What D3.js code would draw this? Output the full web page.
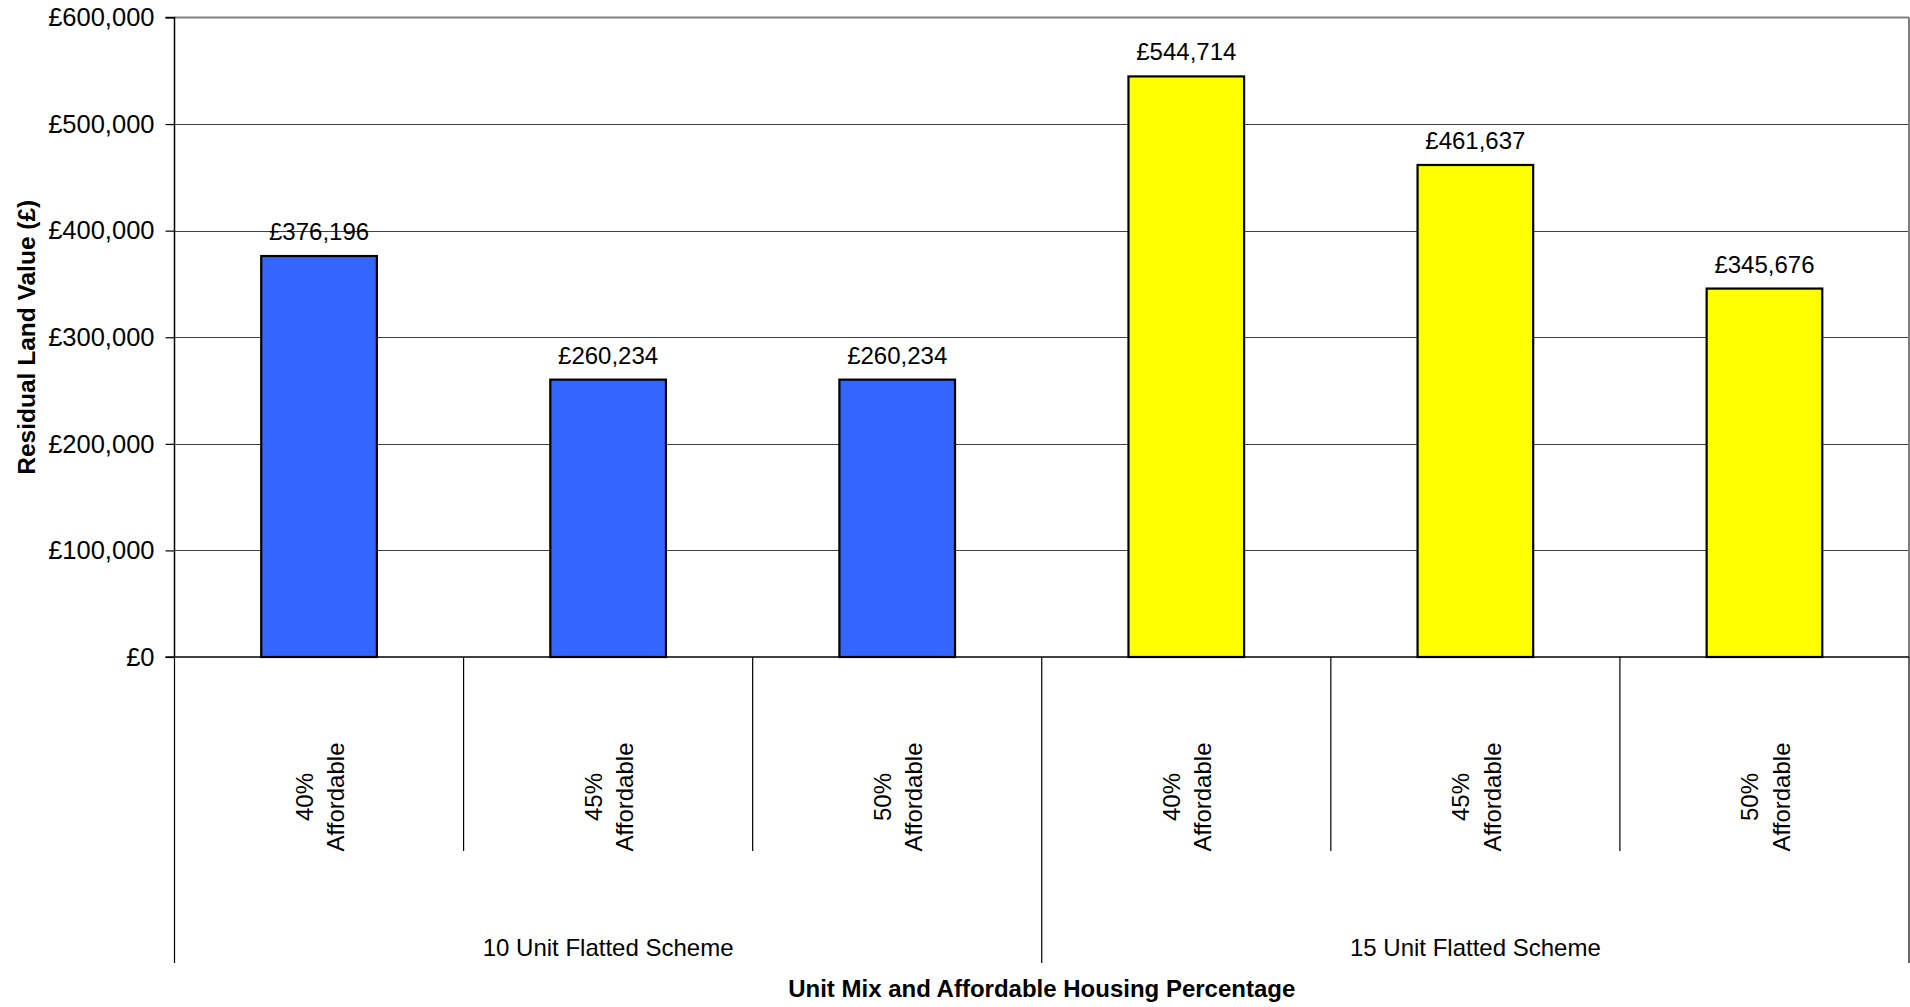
<!DOCTYPE html>
<html><head><meta charset="utf-8">
<script src="https://cdn.jsdelivr.net/npm/d3@7"></script>
<style>body{margin:0;background:#fff;} svg text{font-family:Arial,"Liberation Sans",sans-serif;fill:#000;}</style>
</head><body>
<svg id="c" width="1910" height="1007"></svg>
<script>
const groups = ["10 Unit Flatted Scheme", "15 Unit Flatted Scheme"];
const subLabels = [["40%","Affordable"],["45%","Affordable"],["50%","Affordable"],["40%","Affordable"],["45%","Affordable"],["50%","Affordable"]];
const groupIndex = [0,0,0,1,1,1];
const values = [376196, 260234, 260234, 544714, 461637, 345676];
const groupColors = ["#3366FF", "#FFFF00"];
const yTicks = [0,100000,200000,300000,400000,500000,600000];
const yTitle = "Residual Land Value (£)";
const xTitle = "Unit Mix and Affordable Housing Percentage";

const L=174.5, R=1909, T=17.5, B=657;
const svg = d3.select("#c");
const idx = d3.range(values.length);
const x = d3.scaleBand().domain(idx).range([L,R]).paddingInner(0.6).paddingOuter(0.3);
const step = (R-L)/values.length;
const y = d3.scaleLinear().domain([0,600000]).range([B,T]);
const fmt = v => "£" + d3.format(",")(v);

// gridlines
svg.append("g").selectAll("line").data(yTicks.filter(t=>t>0 && t<600000)).join("line")
  .attr("x1",L).attr("x2",R).attr("y1",d=>Math.round(y(d))+0.5).attr("y2",d=>Math.round(y(d))+0.5)
  .attr("stroke","#404040").attr("stroke-width",1.2);
// top and right border
svg.append("line").attr("x1",L).attr("x2",R).attr("y1",T).attr("y2",T).attr("stroke","#808080").attr("stroke-width",2);
svg.append("line").attr("x1",R).attr("x2",R).attr("y1",T).attr("y2",B).attr("stroke","#808080").attr("stroke-width",2);

// bars
svg.append("g").selectAll("rect").data(idx).join("rect")
  .attr("x",i=>x(i)).attr("width",x.bandwidth())
  .attr("y",i=>y(values[i])).attr("height",i=>y(0)-y(values[i]))
  .attr("fill",i=>groupColors[groupIndex[i]]).attr("stroke","#000").attr("stroke-width",2.2);

// value labels
svg.append("g").selectAll("text").data(idx).join("text")
  .attr("x",i=>x(i)+x.bandwidth()/2).attr("y",i=>y(values[i])-16)
  .attr("text-anchor","middle").attr("font-size",24).text(i=>fmt(values[i]));

// y axis
const yAxis = d3.axisLeft(y).tickValues(yTicks).tickFormat(fmt).tickSize(9).tickPadding(11);
const ga = svg.append("g").attr("transform",`translate(${L},0)`).call(yAxis);
ga.select(".domain").attr("stroke","#000").attr("stroke-width",1.5);
ga.selectAll(".tick line").attr("stroke","#000").attr("stroke-width",1.2);
ga.selectAll("text").attr("font-size",25.5).attr("font-family","Arial,'Liberation Sans',sans-serif").attr("fill","#000");
ga.select(".domain").attr("d",`M-9,${T}H0V${B}`);

// x axis baseline
svg.append("line").attr("x1",L-9).attr("x2",R).attr("y1",B).attr("y2",B).attr("stroke","#000").attr("stroke-width",1.5);

// category dividers
const divs = d3.range(values.length+1);
svg.append("g").selectAll("line").data(divs).join("line")
  .attr("x1",i=>L+i*step).attr("x2",i=>L+i*step)
  .attr("y1",B).attr("y2",i=>(i%3===0)?963:851)
  .attr("stroke","#000").attr("stroke-width",1.2);
// sub labels
const sl = svg.append("g").selectAll("text").data(idx).join("text")
  .attr("transform",i=>`translate(${x(i)+x.bandwidth()/2},797) rotate(-90)`)
  .attr("text-anchor","middle").attr("font-size",24);
sl.each(function(i){
  const t=d3.select(this);
  t.append("tspan").attr("x",0).attr("dy","-0.25em").text(subLabels[i][0]);
  t.append("tspan").attr("x",0).attr("dy","1.3em").text(subLabels[i][1]);
});
// group labels
svg.append("g").selectAll("text").data(groups).join("text")
  .attr("x",(d,g)=>L+step*(3*g+1.5)).attr("y",956)
  .attr("text-anchor","middle").attr("font-size",24).text(d=>d);

// titles
svg.append("text").attr("x",(L+R)/2).attr("y",997).attr("text-anchor","middle")
  .attr("font-size",24).attr("font-weight","bold").text(xTitle);
svg.append("text").attr("transform",`translate(35,${(T+B)/2}) rotate(-90)`).attr("text-anchor","middle")
  .attr("font-size",24.5).attr("font-weight","bold").text(yTitle);
</script>
</body></html>
